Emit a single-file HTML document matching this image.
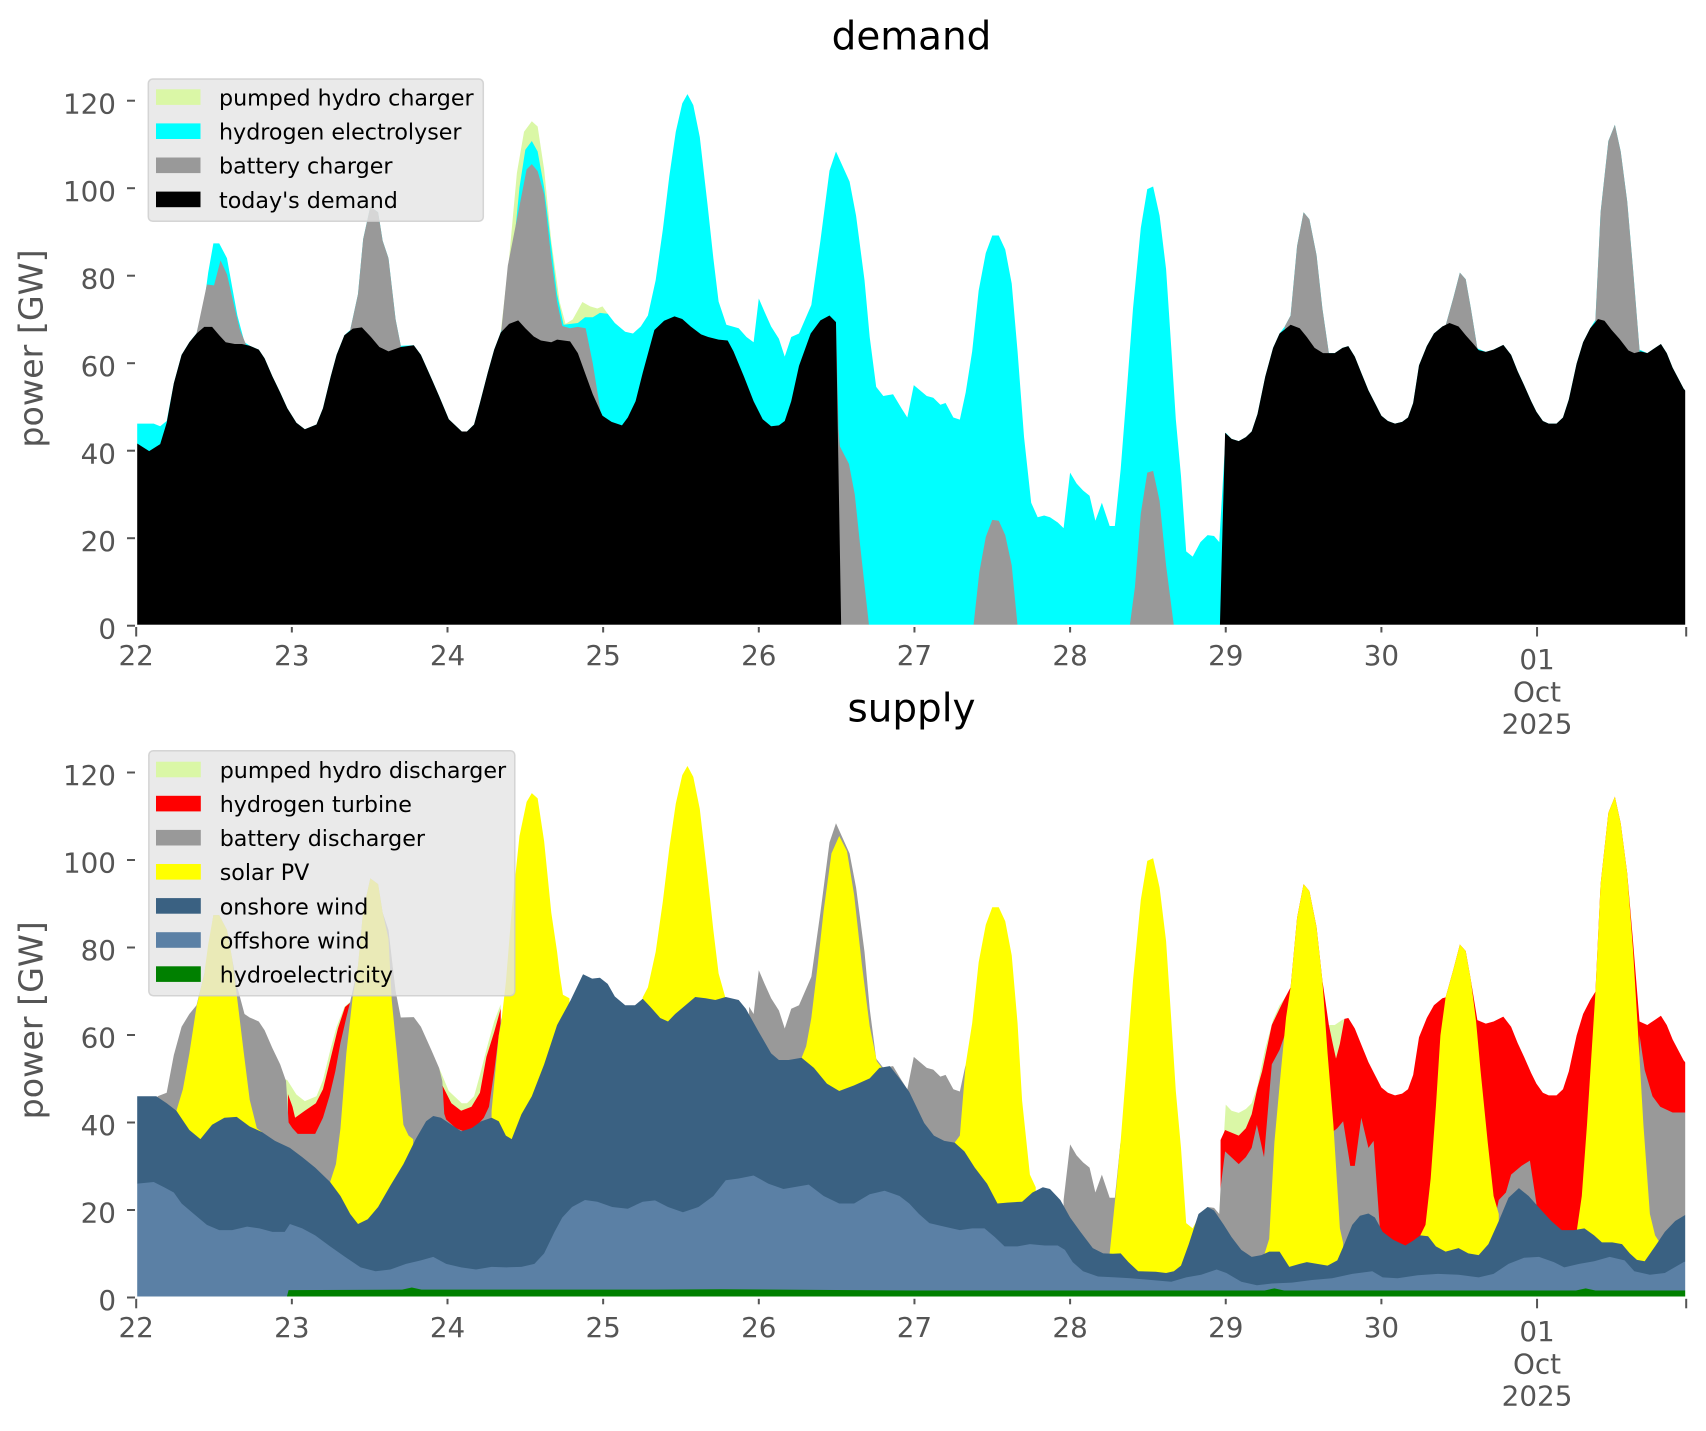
<!DOCTYPE html>
<html>
<head>
<meta charset="utf-8">
<style>
html,body{margin:0;padding:0;background:#fff;}
svg{display:block;}
text{font-family:"DejaVu Sans","Liberation Sans",sans-serif;}
.tk{fill:#555555;font-size:27.8px;}
.yl{fill:#555555;font-size:33.3px;}
.tt{fill:#000;font-size:38.9px;}
.lg{fill:#000;font-size:22.2px;}
</style>
</head>
<body>
<svg width="1706" height="1431" viewBox="0 0 1706 1431" xmlns="http://www.w3.org/2000/svg">
<rect x="0" y="0" width="1706" height="1431" fill="#ffffff"/>

<!-- ================= TOP: demand ================= -->
<g transform="matrix(6.4854 0 0 -4.375 136.2 625.7)">
  <!-- pumped hydro charger -->
  <polygon fill="#daf7a6" points="56.2,0 56.2,67 57.5,84 58.7,103.5 59.8,112.9 61,115.3 61.9,114.1 62.9,104.3 64,88 65.3,74 66.2,69 67.3,70 68.8,74 70,73 71.1,72.5 71.9,73 72.7,71.3 72.7,0"/>
  <!-- hydrogen electrolyser (cumulative) -->
  <polygon fill="#00ffff" points="0,0 0,46.2 2.7,46.2 3.7,45.6 4.7,46.8 5.8,55.4 7,61.9 8.2,64.8 9.3,66.8 10.5,74 11.1,80.7 11.9,87.4 12.8,87.4 14,84 14.8,77.4 15.6,70.9 16.7,64.8 17.5,64 18.9,63.1 19.8,61.1 21,57 22.2,53.3 23.3,49.7 24.7,46.4 26,44.9 27.8,46 28.8,49.7 30,57 30.9,61.9 32.1,66.4 33,67.6 34.2,75.8 35,88.4 36.1,95.8 37.3,94.5 38,88 38.9,84 40,70 40.8,64 42.8,64.1 43.9,61.9 45.5,56.6 46.7,52.5 48.2,47.2 50.2,44.4 51,44.4 52.1,46 53,50.9 54.2,57.8 55.2,63.1 56.2,67 57.1,72.5 58.3,88 59.1,100.2 60,108.8 61,110.8 61.9,108.4 62.9,100.2 64.1,85.6 64.9,75.8 65.9,68.8 67,69 68.1,69.2 69.2,70.5 70.4,70.5 71.5,71.5 72.7,71.3 73.8,69.2 75.4,67.2 76.6,66.8 77.8,68.4 78.9,70.9 80.1,79 81.2,90.5 82.2,102.7 83.2,112.9 84.2,119.4 85,121.5 85.9,119 86.9,111.7 88.1,96.2 89,83.9 89.8,74.1 91,68.8 92.9,68 94.1,66 95.2,64.8 96,74.8 96.9,71.7 97.9,68.4 99.1,65.6 100,61.5 101,66 102.2,66.8 104.1,73.3 105.5,88 106.9,104 107.9,108.4 110,101.5 111,93.7 112.3,79 113.1,66 114.1,54.6 115.2,52.5 116.7,52.9 118,49.7 118.9,47.6 119.9,55 121.9,52.5 122.9,52.1 124,50.5 124.8,50.9 126,47.6 127,47.1 127.9,53.3 128.9,62.7 129.9,76.6 131,85.2 132,89.2 133,89.2 134,86 135,78.2 135.9,62.7 136.9,43.1 138,28.1 139,24.8 140,25.2 140.9,24.8 142.1,23.6 143,22.3 144,35 145,32.5 146,30.9 147,29.7 147.9,24 148.9,28.1 150.1,22.8 150.9,22.8 151.8,35.8 152.7,52.9 153.7,72.5 154.9,90.9 155.9,99.8 156.8,100.4 157.8,93.7 158.8,81.5 159.6,63.5 160.3,47.2 161.1,34.2 161.9,17 162.9,15.8 164.1,19.1 165.2,20.7 166.2,20.5 167,19.1 168,44.1 168.9,42.7 170,42.2 171.1,43.1 172,44.4 172.9,48.4 174.1,57 175.3,63.5 176.3,66.8 177.1,68.4 178,70.9 179,86.8 180,94.5 180.9,92.9 182,84.7 182.9,72.5 183.9,62.3 184.8,62.3 186,63.5 186.9,63.9 187.9,61.5 188.9,57.8 190,53.8 191,50.9 192,48 193,46.8 194.1,46.2 195.2,46.6 196.1,47.6 196.9,50.9 197.8,59.5 199,63.9 200.1,66.8 201.4,68.4 201.9,68.6 203.1,75 204.1,80.7 205,79.2 205.8,72.5 206.8,63.4 208.1,62.6 209.3,63.1 210.8,64.2 212,61.9 213,58.2 214,55 215.1,51.3 215.9,48.9 216.9,46.8 217.8,46.2 219,46.2 220,47.6 220.9,51.7 222.1,59.9 223.1,64.8 224.2,68 225,69.9 225.8,94.5 227,110.8 228,114.5 228.9,108.4 229.9,97 230.8,81.5 231.8,63.1 233,62.3 234.2,63.5 235.1,64.4 236,62.3 236.9,59 238.6,54.2 239,53.5 239,0"/>
  <!-- battery charger pieces -->
  <g fill="#999999">
    <polygon points="9.3,0 9.3,66.8 10.9,78 12,77.8 13,83.5 14,80.3 15.2,72.5 16,67.6 16.9,64.4 16.9,0"/>
    <polygon points="33,0 33,67.6 34.2,75.8 35,88.4 36.1,95.8 37.3,94.5 38,88 38.9,84 40,70 40.8,64 40.8,0"/>
    <polygon points="56.2,0 56.2,66 57.3,82.3 58.7,92.9 60.2,104.3 61,105.5 61.9,103.9 62.9,98.6 64,84 64.9,74 65.7,68.5 66.9,68 68.1,68.3 69.3,68 70.4,60 71.6,49 71.9,0"/>
    <polygon points="107.9,0 107.9,69.4 108.3,45 108.5,41 109.9,37 110.8,30 111.6,18.7 113,0"/>
    <polygon points="129.1,0 130,12.2 131,20.3 132,24.2 133,24 134,20.7 135,13.8 135.9,0"/>
    <polygon points="153.2,0 154,8.9 154.9,25.6 155.9,35 156.8,35.4 157.8,28.5 158.8,13.8 160,0"/>
    <polygon points="177,0 177.1,68.4 178,70.9 179,86.8 180,94.5 180.9,92.9 182,84.7 182.9,72.5 183.9,62.3 184,0"/>
    <polygon points="201.4,0 201.4,68.4 201.9,68.6 203.1,75 204.1,80.7 205,79.2 205.8,72.5 206.8,63.4 207,0"/>
    <polygon points="224.8,0 225,69.9 225.8,94.5 227,110.8 228,114.5 228.9,108.4 229.9,97 230.8,81.5 231.8,63.1 232,0"/>
  </g>
  <!-- today's demand -->
  <polygon fill="#000000" points="0,0 0,41.8 2,39.9 3.7,41.5 4.7,46.4 5.8,55.4 7,61.9 8.2,64.8 9.3,66.8 10.5,68.3 11.7,68.3 12.8,66.4 13.8,64.8 15.2,64.4 16.3,64.4 17.5,64 18.9,63.1 19.8,61.1 21,57 22.2,53.3 23.3,49.7 24.7,46.4 26,44.9 27.8,46 28.8,49.7 30,57 30.9,61.9 32.1,66.4 33.4,67.9 34.8,68.2 36.2,66 37.5,63.7 38.9,62.7 40.8,63.7 42.8,64.1 43.9,61.9 45.5,56.6 46.7,52.5 48.2,47.2 50.2,44.4 51,44.4 52.1,46 53,50.9 54.2,57.8 55.2,63.1 56.2,67 57.5,69 58.9,69.8 60,68 61.3,66.1 62.4,65.2 64,64.8 64.9,65.4 66.9,65 68.1,62.3 69.2,57.8 70.4,52.9 71.9,48 73.3,46.6 74.9,45.8 75.8,47.6 77,51.3 78.1,57.8 79.9,67.6 81.4,69.7 83,70.7 84.2,70.1 85.5,68.4 87.1,66.6 88.2,66 89.8,65.4 91.2,65.2 92.1,62.7 93.7,57 95.2,51.3 96.6,47.2 97.9,45.6 99.1,45.8 100,46.8 101,51.3 102.2,59.4 104,66.8 105.5,69.8 106.9,70.9 107.9,69.4 108.7,0 167.1,0 167.9,44.1 168.9,42.7 170,42.2 171.1,43.1 172,44.4 172.9,48.4 174.1,57 175.3,63.5 176.3,66.8 178,68.8 179.4,68 180.5,66 181.7,63.5 183,62.3 184.8,62.3 186,63.5 186.9,63.9 187.9,61.5 188.9,57.8 190,53.8 191,50.9 192,48 193,46.8 194.1,46.2 195.2,46.6 196.1,47.6 196.9,50.9 197.8,59.5 199,63.9 200.1,66.8 201.4,68.4 202.5,69.2 203.9,68.4 205,66.4 206.2,64.4 207,63 208.1,62.6 209.3,63.1 210.8,64.2 212,61.9 213,58.2 214,55 215.1,51.3 215.9,48.9 216.9,46.8 217.8,46.2 219,46.2 220,47.6 220.9,51.7 222.1,59.9 223.1,64.8 224.2,68 225.4,70.1 226.4,69.7 227.5,67.6 228.7,65.6 230.1,62.9 231,62.3 232,62.7 233,62.3 234.2,63.5 235.1,64.4 236,62.3 236.9,59 238.6,54.2 239,53.5 239,0"/>
</g>
<!-- white spines top -->
<rect x="136.2" y="67.4" width="1550" height="558.3" fill="none" stroke="#ffffff" stroke-width="2"/>

<!-- ================= BOTTOM: supply ================= -->
<g transform="matrix(6.4854 0 0 -4.375 136.2 1297.5)">
  <!-- pumped hydro discharger pieces -->
  <g fill="#daf7a6">
    <polygon points="23,0 23,49.9 23.3,49.7 24.7,46.4 26,44.9 27.8,46 28.8,49.7 30,57 30.9,61.9 32.1,66.4 33,67.6 33.2,0"/>
    <polygon points="46.7,0 46.7,52.5 48.2,47.2 50.2,44.4 51,44.4 52.1,46 53,50.9 54.2,57.8 55.2,63.1 56.2,67 56.4,0"/>
    <polygon points="167,0 167,19.1 168,44.1 168.9,42.7 170,42.2 171.1,43.1 172,44.4 172.9,48.4 174.1,57 175.3,63.5 176.3,66.8 177.1,68.4 177.3,0"/>
    <polygon points="183.5,0 183.9,62.3 184.8,62.3 186,63.5 186.9,63.9 187,0"/>
  </g>
  <!-- hydrogen turbine pieces -->
  <g fill="#ff0000">
    <polygon points="23.4,0 23.4,46.5 24.1,43.6 24.5,41.1 26,42.7 27.7,44.4 28.8,47.6 29.9,54.2 31.1,61.5 32.2,66.4 33,67.4 33.1,0"/>
    <polygon points="47.2,0 47.2,48.5 48.6,44.4 50.1,42.7 51.7,43.6 53,46.8 54,55 55.2,60.7 56.2,66 56.3,0"/>
    <polygon points="167.2,0 167.2,36 167.9,38.3 170,37 171.1,38.7 172,41.9 172.9,48 173.6,51.7 175.1,62.3 176.3,66 177.1,68.4 178,70.9 179,86.8 180,94.5 180.9,92.9 182,84.7 182.9,72.5 183.9,62.3 184.5,58 185,54.6 185.6,58 186.3,63.7 186.9,63.9 187.9,61.5 188.9,57.8 190,53.8 191,50.9 192,48 193,46.8 194.1,46.2 195.2,46.6 196.1,47.6 196.9,50.9 197.8,59.5 199,63.9 200.1,66.8 201.4,68.4 201.9,68.6 203.1,75 204.1,80.7 205,79.2 205.8,72.5 206.8,63.4 208.1,62.6 209.3,63.1 210.8,64.2 212,61.9 213,58.2 214,55 215.1,51.3 215.9,48.9 216.9,46.8 217.8,46.2 219,46.2 220,47.6 220.9,51.7 222.1,59.9 223.1,64.8 224.2,68 225,69.9 225.8,94.5 227,110.8 228,114.5 228.9,108.4 229.9,97 230.8,81.5 231.8,63.1 233,62.3 234.2,63.5 235.1,64.4 236,62.3 236.9,59 238.6,54.2 239,53.5 239,0"/>
  </g>
  <!-- battery discharger pieces -->
  <g fill="#999999">
    <polygon points="3.3,0 3.3,46 4.7,46.8 5.8,55.4 7,61.9 8.2,64.8 9.3,66.8 10.5,74 11.9,87.4 12.8,87.4 14,84 14.8,77.4 15.6,70.9 16.7,64.8 17.5,64 18.9,63.1 19.8,61.1 21,57 22.2,53.3 23.1,49.5 23.5,40 24.1,38.7 24.9,37.4 27.6,37.4 28.8,41.1 29.8,46 30.7,51.7 31.5,58.2 32.4,64 33,67.6 34.2,75.8 35,88.4 36.1,95.8 37.3,94.5 38,88 38.9,84 40,70 40.8,64 42.8,64.1 43.9,61.9 45.5,56.6 46.7,52.5 47.2,49.5 47.5,42 47.8,40.7 49.3,38.7 50.5,38 52.4,39.1 53.6,41.1 54.4,43.6 55.2,51.7 55.9,59.9 56.3,64 56.5,0"/>
    <polygon points="94.5,0 94.5,66.5 95.2,64.8 96,74.8 96.9,71.7 97.9,68.4 99.1,65.6 100,61.5 101,66 102.2,66.8 104.1,73.3 105.5,88 106.9,104 107.9,108.4 110,101.5 111,93.7 112.3,79 113.1,66 114.1,54.6 115.2,52.5 116.7,52.9 118,49.7 118.9,47.6 119.9,55 121.9,52.5 122.9,52.1 124,50.5 124.8,50.9 126,47.6 127,47.1 127.9,53.3 128.2,0"/>
    <polygon points="143,0 143,22.3 144,35 145,32.5 146,30.9 147,29.7 147.9,24 148.9,28.1 150.1,22.8 150.9,22.8 151.8,35.8 152,0"/>
    <polygon points="164,0 164,19.1 165.2,20.7 166.2,20.5 167,19.1 167.2,25 167.9,33.4 170,30.5 171.1,32.1 172,34.2 172.8,39.5 173.9,32.1 175.1,53.3 176.3,56.6 177.1,60 177.5,0"/>
    <polygon points="184,0 184.6,38 185.2,38.7 186.1,40.3 187.2,30.1 187.9,30.1 188.9,41.1 190,34.2 190.8,35.8 191.8,15 192,0"/>
    <polygon points="209.5,0 209.7,19.5 210.1,22.3 211.2,24 212,28.1 213.6,30.1 214.9,31.3 215.9,21.5 216.2,0"/>
    <polygon points="231.6,0 231.8,60 232.6,52 233.8,46 235,43.6 236.9,42.3 239,42.3 239,0"/>
  </g>
  <!-- solar PV pieces -->
  <g fill="#ffff00">
    <polygon points="6,0 6.2,42.7 7.2,47.6 8.2,55.8 9.3,66.5 10.5,74 11.1,80.7 11.9,87.4 12.8,87.4 14,84 14.8,77.4 15.6,68 16.6,55.8 17.5,45.2 18.6,38.7 19.4,37.8 19.4,0"/>
    <polygon points="29.8,0 29.9,26.4 30.8,30.5 31.5,38.7 32.4,55.8 33.4,68.9 34.2,75.8 35,88.4 36.1,95.8 37.3,94.5 38,88 38.9,82 39.4,68 40.2,55.8 41.2,39.5 42,37 42.7,36.2 42.7,0"/>
    <polygon points="54.6,0 54.8,42.7 55.9,59.9 56.3,63 57,72.1 57.9,88.4 59.1,105.5 60.2,113.3 61,115.3 61.9,114.1 62.9,104.3 64,88 64.9,79 65.3,74 65.8,69.2 66.8,68.4 66.8,0"/>
    <polygon points="78,0 78.1,68.6 78.9,70.9 80.1,79 81.2,90.5 82.2,102.7 83.2,112.9 84.2,119.4 85,121.5 85.9,119 86.9,111.7 88.1,96.2 89,83.9 89.8,74.1 90.8,68.8 90.9,0"/>
    <polygon points="102.6,0 102.6,54.8 103.3,57.4 104.1,63.9 105.1,76.2 106,88.4 107.2,101.5 108.4,105.5 109.6,102 110.7,92 111.9,76 113.1,62 114.2,54 115,52.5 115,0"/>
    <polygon points="126.2,0 126.2,35.4 127,37 127.9,53.3 128.9,62.7 129.9,76.6 131,85.2 132,89.2 133,89.2 134,86 135,78.2 135.9,62.7 136.6,45 137.8,28.1 138.7,25.2 138.8,0"/>
    <polygon points="150,0 150.1,10.1 151,23.2 151.8,35.8 152.7,52.9 153.7,72.5 154.9,90.9 155.9,99.8 156.8,100.4 157.8,93.7 158.8,81.5 159.6,63.5 160.3,47.2 161.1,34.2 161.9,17 162.9,15.8 164.1,19.1 164.2,0"/>
    <polygon points="174,0 174,10.1 174.7,13.4 175.5,35.4 176.5,51.7 177.3,64 178,70.9 179,86.8 180,94.5 180.9,92.9 182,84.7 182.9,72.5 183.7,55.8 184.6,39.5 185.6,15.8 186.1,12.5 186.1,0"/>
    <polygon points="198,0 198,14.2 198.8,16.6 199.6,27.2 200.4,43.6 201.1,59.9 201.9,68.6 203.1,75 204.1,80.7 205,79.2 205.8,72.5 206.6,63.1 207.3,51.7 208.4,35.4 209.3,23.2 210.1,19.1 210.1,0"/>
    <polygon points="222,0 222.1,15 222.9,23.2 223.7,39.5 224.4,55.8 225,69.7 225.8,94.5 227,110.8 228,114.5 228.9,108.4 229.9,97 230.8,79.4 231.6,59.9 232.4,39.5 233.4,19.1 234.2,14.2 234.9,12.6 234.9,0"/>
  </g>
  <!-- onshore wind -->
  <polygon fill="#3a6182" points="0,0 0,46 3.1,46 4.7,44.4 6.2,42.7 8.2,38.3 9.9,36.2 11.7,39.5 13.6,41.1 15.5,41.3 17.5,39.1 19.4,37.8 21.4,35.8 23.7,34.2 25.6,32.1 27.6,29.7 29.9,26.4 31.5,23.2 33,19.1 34.2,16.8 35.7,17.9 37.3,20.7 39.2,25.6 41.2,30.5 43.1,36.2 44.7,40.3 45.8,41.5 47,41.1 48.6,39.5 50.1,38 51.7,38.7 53.2,40.3 54.8,41.1 55.9,40.3 57,37 57.9,36.2 59.4,41.9 61,46 62.9,53.3 64.9,62.3 67,68 68.9,73.9 70.3,72.9 71.5,73.1 72.7,71.7 73.8,68.8 75.4,66.8 76.9,66.8 78.1,68.3 79.3,66.4 80.8,63.9 82,63.1 83.1,64.8 84.7,66.8 86.2,68.7 87.8,68.4 89.3,68 90.9,68.7 92.9,68 94,66 96,60.7 97.9,55.8 99.1,54.3 100.6,54.3 102.6,54.8 104.5,52.5 106.5,48.9 108.4,47.2 110.7,48.5 113.1,50.1 114.6,52.5 116.2,52.9 117.7,50.1 119.2,47 120.3,43.6 121.5,39.9 123,37 124.6,35.8 126.2,35.4 127.7,33.4 129.3,29.7 131.2,26 132.8,21.5 134.3,21.7 136.6,21.9 138.2,24 139.8,25.2 140.9,24.8 142.5,22.3 144,18.3 145.6,15 147.5,11.3 149.1,10.1 150.6,10 151.8,10.1 153,8.1 154.5,6 157.2,5.9 158.8,5.6 160,6 161.1,7.3 162.3,12.2 163.8,19.1 165.2,20.7 166.2,19.9 167.7,16.6 168.9,13.8 170.4,10.9 172,9.3 173.5,9.7 174.7,10.5 176.3,10.5 177.8,7 179.4,7.7 180.5,8.1 182.1,7.7 183.7,7.3 185.2,8.5 186.4,12.6 187.5,16.6 188.7,18.7 190,19.2 191,18.3 192.2,15 193.8,13.2 195.7,11.9 196.9,13 198,14.2 199.2,14 200.4,11.7 201.9,10.5 203.9,11.3 205.4,10.1 207,9.7 208.5,12.2 210.1,17.5 211.6,22.8 213.2,25 214.7,23.2 216.7,19.9 218.2,17.5 219.8,15.4 221.7,15.4 223.3,15.8 224.8,14.2 226,12.6 227.6,12.6 229.1,12.2 230.3,10.1 231.4,8.6 232.6,8.3 234.2,11.7 235.7,15 237.3,17.5 239,19 239,0"/>
  <!-- offshore wind -->
  <polygon fill="#5b80a5" points="0,0 0,26 2.7,26.4 4.3,25.2 5.8,24 7,21.5 8.9,19.1 10.9,16.6 12.8,15.4 14.8,15.4 17.1,16.2 19,15.8 21,15 22.9,15 23.7,16.8 25.6,15.8 27.6,14.2 29.9,11.7 32.2,9.3 34.6,6.9 36.9,6 39.2,6.4 41.6,7.7 43.9,8.5 45.8,9.3 47.8,7.7 50.1,6.9 52.4,6.4 54.8,7 57.1,6.9 59.4,7 61.4,7.7 62.9,10.1 64.5,15 65.7,18.3 67.2,20.7 69.2,22.3 71.1,21.9 73.4,20.7 75.8,20.3 78.1,21.9 80,22.2 82,20.7 84.3,19.5 86.7,20.7 89,23.2 90.9,26.8 92.9,27.2 95.2,27.9 97.5,26 99.8,24.8 103.7,25.8 106,23.2 108.4,21.5 110.7,21.5 113.1,23.6 115.4,24.4 117.7,23.2 119.2,21.5 120.7,19.1 122.3,17 124.6,16.2 127,15.4 128.9,15.8 130.8,15.8 132.4,13.8 133.9,11.7 135.9,11.7 137.8,12.2 140.1,11.9 142.1,11.9 143.2,10.9 144.4,8.1 146,6 148.3,4.8 151,4.6 153.3,4.4 156.5,4 159.6,3.6 161.9,4.6 164.2,5.2 166.6,6.4 168.1,5.6 170.4,3.6 172.8,2.8 175.1,3.2 178.2,3.4 181.3,4 184.4,4.4 187.5,5.4 190.6,6 192.2,4.6 194.5,4.4 197.6,5.1 200.7,5.4 203.9,5.2 207,4.6 209.3,5.4 211.6,7.7 214,9.1 216.3,9.3 218.6,8.1 220.2,6.9 222.5,7.7 224.8,8.3 227.2,9.3 229.5,8.5 231,6 233.4,5.2 235.7,5.6 238.6,8.1 239,8.3 239,0"/>
  <!-- hydroelectricity -->
  <polygon fill="#008000" points="23.2,0 23.5,1.7 41,1.8 42.5,2.3 44,1.8 80,1.8 90,1.9 120,1.6 174,1.6 175.5,2.1 177,1.6 222,1.6 223.5,2.1 225,1.6 239,1.6 239,0"/>
</g>
<!-- white spines bottom -->
<rect x="136.2" y="739.2" width="1550" height="558.3" fill="none" stroke="#ffffff" stroke-width="2"/>

<!-- ================= AXES DECORATION ================= -->
<g stroke="#555555" stroke-width="2">
  <!-- top y ticks -->
  <line x1="127" y1="625.7" x2="135" y2="625.7"/>
  <line x1="127" y1="538.2" x2="135" y2="538.2"/>
  <line x1="127" y1="450.7" x2="135" y2="450.7"/>
  <line x1="127" y1="363.2" x2="135" y2="363.2"/>
  <line x1="127" y1="275.7" x2="135" y2="275.7"/>
  <line x1="127" y1="188.2" x2="135" y2="188.2"/>
  <line x1="127" y1="100.7" x2="135" y2="100.7"/>
  <!-- bottom y ticks -->
  <line x1="127" y1="1297.5" x2="135" y2="1297.5"/>
  <line x1="127" y1="1210" x2="135" y2="1210"/>
  <line x1="127" y1="1122.5" x2="135" y2="1122.5"/>
  <line x1="127" y1="1035" x2="135" y2="1035"/>
  <line x1="127" y1="947.5" x2="135" y2="947.5"/>
  <line x1="127" y1="860" x2="135" y2="860"/>
  <line x1="127" y1="772.5" x2="135" y2="772.5"/>
  <!-- top x ticks -->
  <line x1="136.2" y1="627" x2="136.2" y2="636.5"/>
  <line x1="291.85" y1="627" x2="291.85" y2="632.5"/>
  <line x1="447.5" y1="627" x2="447.5" y2="632.5"/>
  <line x1="603.15" y1="627" x2="603.15" y2="632.5"/>
  <line x1="758.8" y1="627" x2="758.8" y2="632.5"/>
  <line x1="914.45" y1="627" x2="914.45" y2="632.5"/>
  <line x1="1070.1" y1="627" x2="1070.1" y2="632.5"/>
  <line x1="1225.75" y1="627" x2="1225.75" y2="632.5"/>
  <line x1="1381.4" y1="627" x2="1381.4" y2="632.5"/>
  <line x1="1537.05" y1="627" x2="1537.05" y2="636.5"/>
  <line x1="1686.2" y1="627" x2="1686.2" y2="636.5"/>
  <!-- bottom x ticks -->
  <line x1="136.2" y1="1298.8" x2="136.2" y2="1308.3"/>
  <line x1="291.85" y1="1298.8" x2="291.85" y2="1304.3"/>
  <line x1="447.5" y1="1298.8" x2="447.5" y2="1304.3"/>
  <line x1="603.15" y1="1298.8" x2="603.15" y2="1304.3"/>
  <line x1="758.8" y1="1298.8" x2="758.8" y2="1304.3"/>
  <line x1="914.45" y1="1298.8" x2="914.45" y2="1304.3"/>
  <line x1="1070.1" y1="1298.8" x2="1070.1" y2="1304.3"/>
  <line x1="1225.75" y1="1298.8" x2="1225.75" y2="1304.3"/>
  <line x1="1381.4" y1="1298.8" x2="1381.4" y2="1304.3"/>
  <line x1="1537.05" y1="1298.8" x2="1537.05" y2="1308.3"/>
  <line x1="1686.2" y1="1298.8" x2="1686.2" y2="1308.3"/>
</g>

<!-- y tick labels -->
<g class="tk" text-anchor="end">
  <text x="116" y="638.3">0</text>
  <text x="116" y="550.8">20</text>
  <text x="116" y="463.3">40</text>
  <text x="116" y="375.8">60</text>
  <text x="116" y="288.3">80</text>
  <text x="116" y="200.8">100</text>
  <text x="116" y="113.3">120</text>
  <text x="116" y="1310.1">0</text>
  <text x="116" y="1222.6">20</text>
  <text x="116" y="1135.1">40</text>
  <text x="116" y="1047.6">60</text>
  <text x="116" y="960.1">80</text>
  <text x="116" y="872.6">100</text>
  <text x="116" y="785.1">120</text>
</g>

<!-- x tick labels -->
<g class="tk" text-anchor="middle">
  <text x="136.2" y="665">22</text>
  <text x="291.85" y="665">23</text>
  <text x="447.5" y="665">24</text>
  <text x="603.15" y="665">25</text>
  <text x="758.8" y="665">26</text>
  <text x="914.45" y="665">27</text>
  <text x="1070.1" y="665">28</text>
  <text x="1225.75" y="665">29</text>
  <text x="1381.4" y="665">30</text>
  <text x="1537.05" y="669">01</text>
  <text x="1537.05" y="701.5">Oct</text>
  <text x="1537.05" y="733.5">2025</text>

  <text x="136.2" y="1336.8">22</text>
  <text x="291.85" y="1336.8">23</text>
  <text x="447.5" y="1336.8">24</text>
  <text x="603.15" y="1336.8">25</text>
  <text x="758.8" y="1336.8">26</text>
  <text x="914.45" y="1336.8">27</text>
  <text x="1070.1" y="1336.8">28</text>
  <text x="1225.75" y="1336.8">29</text>
  <text x="1381.4" y="1336.8">30</text>
  <text x="1537.05" y="1340.8">01</text>
  <text x="1537.05" y="1373.3">Oct</text>
  <text x="1537.05" y="1405.3">2025</text>
</g>

<!-- titles -->
<text class="tt" x="911.5" y="49.3" text-anchor="middle">demand</text>
<text class="tt" x="911.5" y="721.4" text-anchor="middle">supply</text>

<!-- y labels -->
<text class="yl" text-anchor="middle" transform="translate(42.3 348.5) rotate(-90)">power [GW]</text>
<text class="yl" text-anchor="middle" transform="translate(42.3 1020.3) rotate(-90)">power [GW]</text>

<!-- ================= LEGENDS ================= -->
<g>
  <rect x="148.3" y="79" width="335" height="142.3" rx="4.4" ry="4.4" fill="rgba(229,229,229,0.8)" stroke="rgba(204,204,204,0.8)" stroke-width="1.5"/>
  <rect x="156" y="89.3" width="44.5" height="15.6" fill="#daf7a6"/>
  <rect x="156" y="123.4" width="44.5" height="15.6" fill="#00ffff"/>
  <rect x="156" y="157.5" width="44.5" height="15.6" fill="#999999"/>
  <rect x="156" y="191.6" width="44.5" height="15.6" fill="#000000"/>
  <g class="lg">
    <text x="219" y="105.5">pumped hydro charger</text>
    <text x="219" y="139.6">hydrogen electrolyser</text>
    <text x="219" y="173.7">battery charger</text>
    <text x="219" y="207.8">today's demand</text>
  </g>
</g>

<g>
  <rect x="148.8" y="750.7" width="366" height="245" rx="4.4" ry="4.4" fill="rgba(229,229,229,0.8)" stroke="rgba(204,204,204,0.8)" stroke-width="1.5"/>
  <rect x="156" y="761.7" width="44.8" height="15.6" fill="#daf7a6"/>
  <rect x="156" y="795.8" width="44.8" height="15.6" fill="#ff0000"/>
  <rect x="156" y="829.9" width="44.8" height="15.6" fill="#999999"/>
  <rect x="156" y="864" width="44.8" height="15.6" fill="#ffff00"/>
  <rect x="156" y="898.1" width="44.8" height="15.6" fill="#3a6182"/>
  <rect x="156" y="932.2" width="44.8" height="15.6" fill="#5b80a5"/>
  <rect x="156" y="966.3" width="44.8" height="15.6" fill="#008000"/>
  <g class="lg">
    <text x="219.7" y="777.9">pumped hydro discharger</text>
    <text x="219.7" y="812">hydrogen turbine</text>
    <text x="219.7" y="846.1">battery discharger</text>
    <text x="219.7" y="880.2">solar PV</text>
    <text x="219.7" y="914.3">onshore wind</text>
    <text x="219.7" y="948.4">offshore wind</text>
    <text x="219.7" y="982.5">hydroelectricity</text>
  </g>
</g>
</svg>
</body>
</html>
